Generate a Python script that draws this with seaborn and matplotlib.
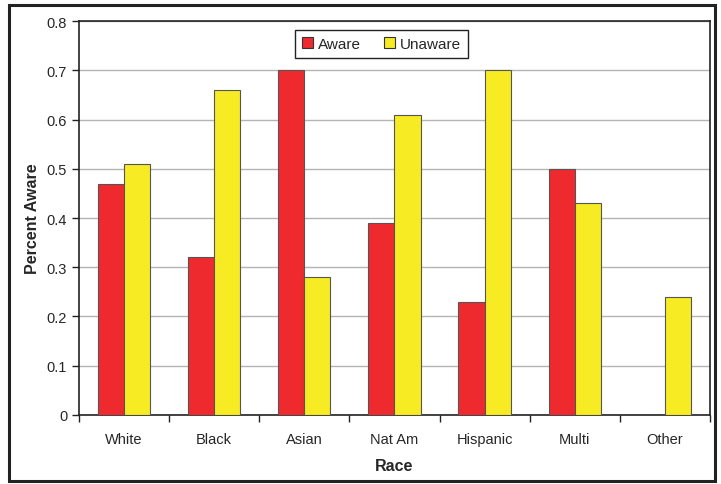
import matplotlib
matplotlib.use("Agg")
import matplotlib.pyplot as plt
import matplotlib.patches as mpatches
import seaborn as sns
import pandas as pd
import numpy as np

categories = ["White", "Black", "Asian", "Nat Am", "Hispanic", "Multi", "Other"]
aware = [0.47, 0.32, 0.70, 0.39, 0.23, 0.50, 0.0]
unaware = [0.51, 0.66, 0.28, 0.61, 0.70, 0.43, 0.24]
series_names = ["Aware", "Unaware"]
yticks = [0, 0.1, 0.2, 0.3, 0.4, 0.5, 0.6, 0.7, 0.8]
ytick_labels = ["0", "0.1", "0.2", "0.3", "0.4", "0.5", "0.6", "0.7", "0.8"]

df = pd.DataFrame({
    "Race": categories * 2,
    "Value": aware + unaware,
    "Series": [series_names[0]] * len(categories) + [series_names[1]] * len(categories),
})

sns.set_style("white")
plt.rcParams["font.family"] = ["Liberation Sans", "DejaVu Sans"]

fig = plt.figure(figsize=(7.21, 4.85), dpi=100)
ax = fig.add_axes([0.1096, 0.1423, 0.8751, 0.8123])

colors = ["#EE2A2E", "#F7EB23"]
palette = dict(zip(series_names, colors))
sns.barplot(data=df, x="Race", y="Value", hue="Series", order=categories,
            hue_order=series_names, palette=palette, width=0.58, gap=0,
            edgecolor="#555555", linewidth=0.8, saturation=1, ax=ax, zorder=3,
            legend=False)

for p in ax.patches:
    if p.get_height() == 0:
        p.set_visible(False)

ax.set_ylim(0, 0.8)
ax.set_xlim(-0.5, len(categories) - 0.5)
ax.set_yticks(yticks)
ax.set_yticklabels(ytick_labels, fontsize=10.5)
ax.yaxis.grid(True, color="#B4B4B4", linewidth=1, zorder=0)
ax.set_axisbelow(True)

ax.set_xticks(np.arange(len(categories)))
ax.set_xticklabels(categories, fontsize=10.5)
ax.tick_params(axis="x", which="major", length=0, pad=12)
ax.set_xticks(np.arange(-0.5, len(categories), 1.0), minor=True)
ax.tick_params(axis="x", which="minor", length=5, width=1, color="#222222", direction="out", bottom=True)
ax.tick_params(axis="y", length=5, width=1, color="#222222", direction="out", left=True)

for s in ["left", "bottom", "top", "right"]:
    ax.spines[s].set_color("#222222")
    ax.spines[s].set_linewidth(1.2)

ax.set_xlabel("Race", fontsize=11.5, fontweight="bold", labelpad=9)
ax.set_ylabel("Percent Aware", fontsize=11.5, fontweight="bold", labelpad=5)

handles = [mpatches.Patch(facecolor=c, edgecolor="#333333", linewidth=0.8, label=n)
           for n, c in zip(series_names, colors)]
leg = ax.legend(handles=handles, loc="upper center", bbox_to_anchor=(0.479, 0.977), ncol=2,
                frameon=True, fancybox=False, fontsize=11, handlelength=0.75,
                handleheight=0.75, handletextpad=0.3, columnspacing=1.5,
                borderpad=0.45, borderaxespad=0)
leg.get_frame().set_edgecolor("#222222")
leg.get_frame().set_linewidth(1.0)
leg.get_frame().set_alpha(1)

fig.patches.append(mpatches.Rectangle((0.013, 0.006), 0.978, 0.982, transform=fig.transFigure,
                                      fill=False, edgecolor="#222222", linewidth=2.2))

fig.savefig("out.png", dpi=100)
